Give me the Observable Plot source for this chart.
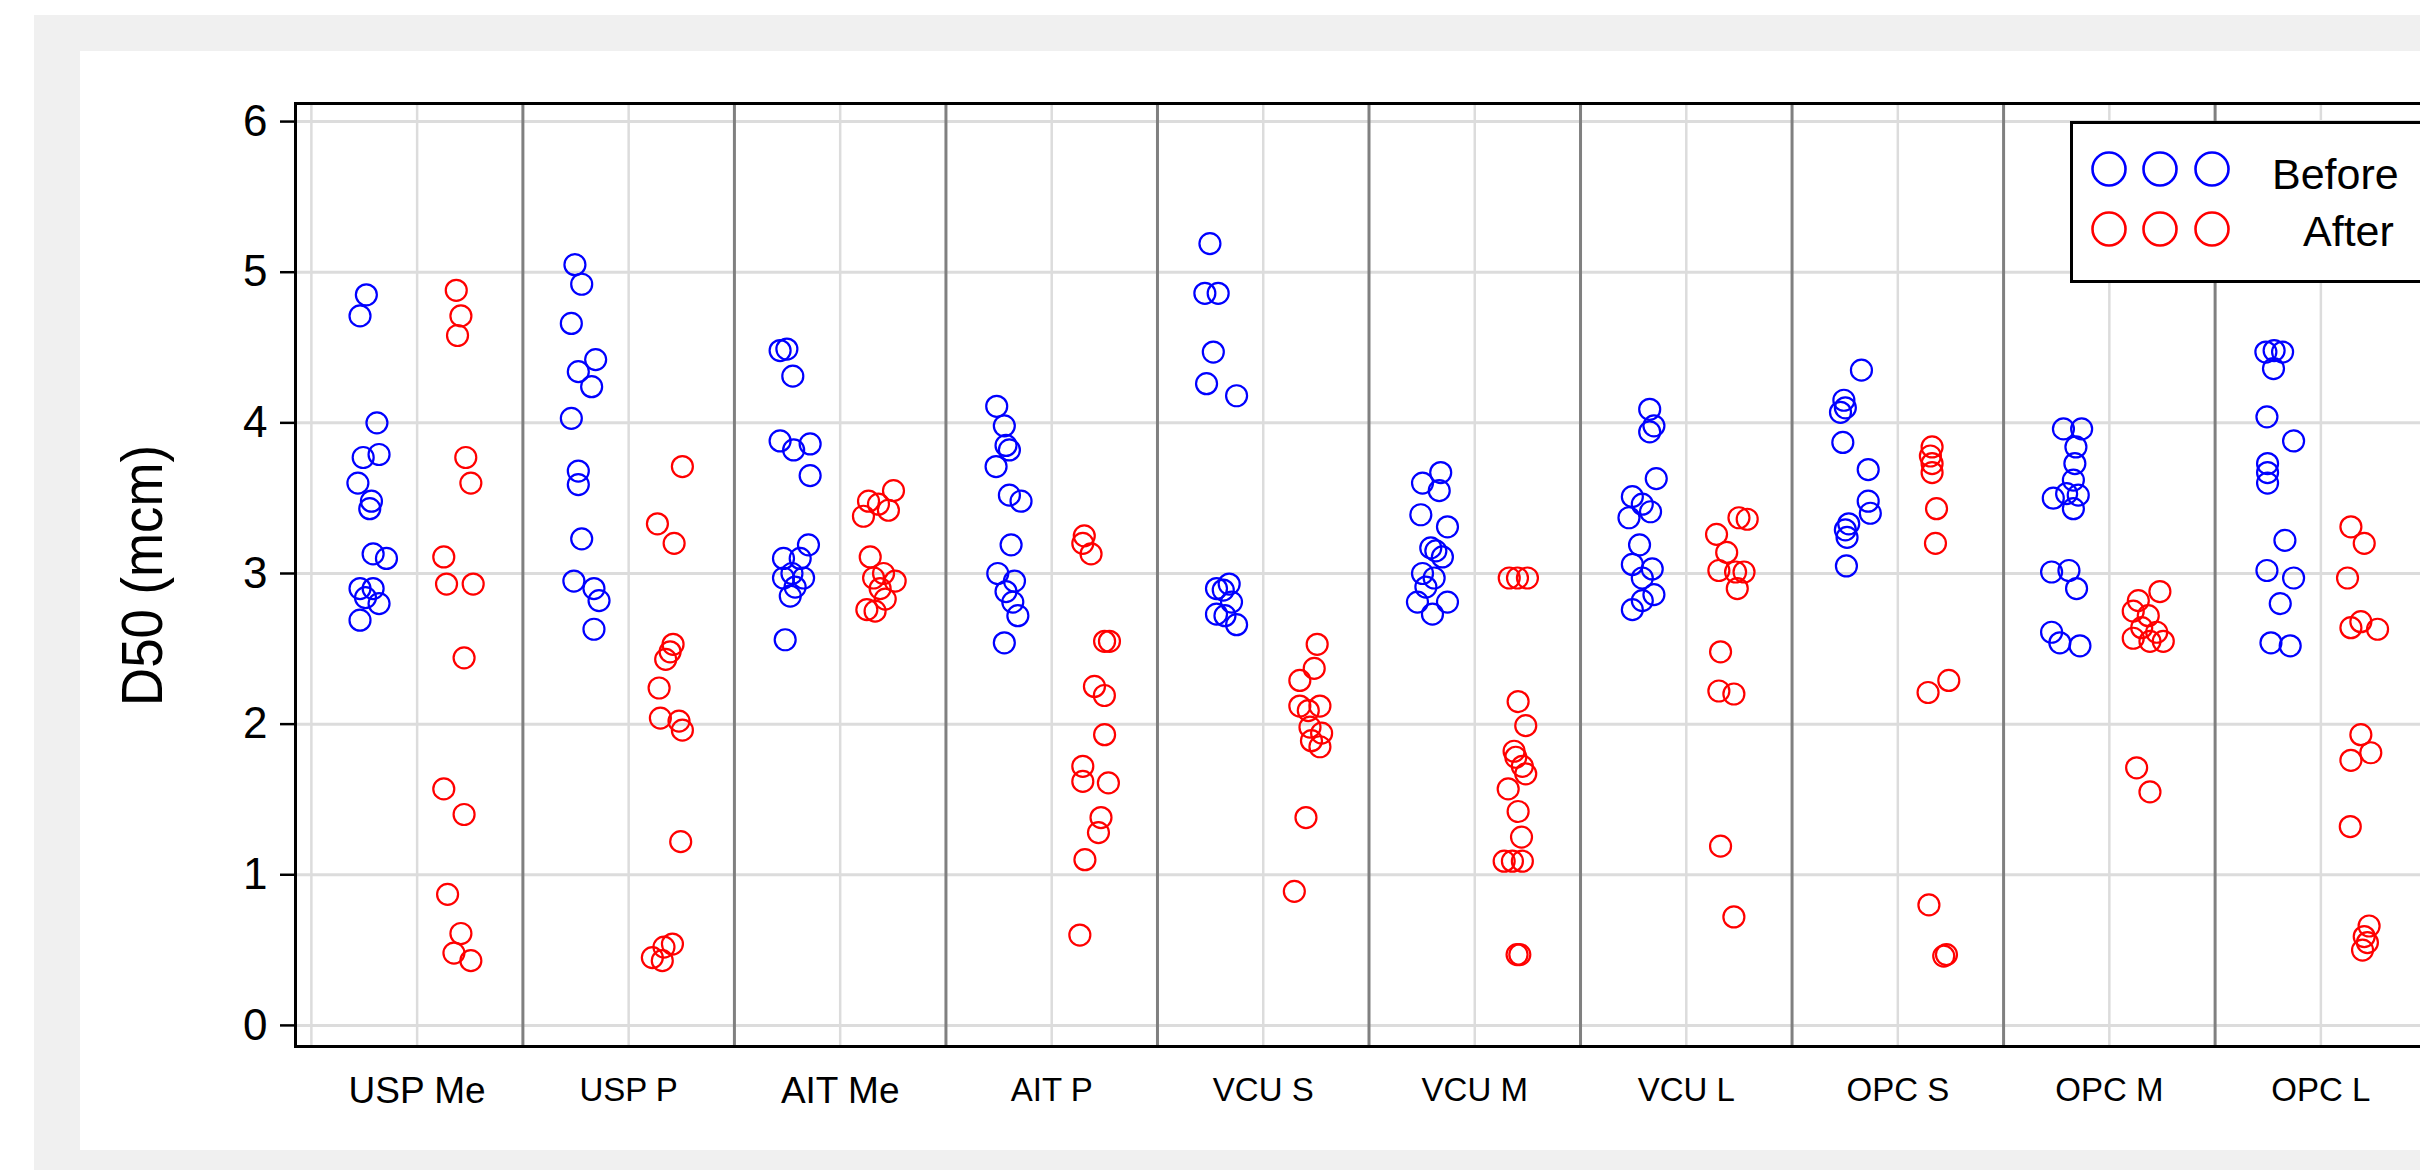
<!DOCTYPE html>
<html><head><meta charset="utf-8">
<script src="https://cdn.jsdelivr.net/npm/d3@7"></script>
<script src="https://cdn.jsdelivr.net/npm/@observablehq/plot@0.6"></script>
<style>
html,body{margin:0;padding:0;background:#fff;}
body{width:2420px;height:1170px;overflow:hidden;position:relative;font-family:"Liberation Sans",Arial,sans-serif;}
#gray{position:absolute;left:34px;top:15px;width:2500px;height:1200px;background:#f0f0f0;}
#panel{position:absolute;left:80px;top:51px;width:2340px;height:1099px;background:#fff;overflow:hidden;}
#panel svg{max-width:none !important;}
#legend{position:absolute;left:2070px;top:121px;width:420px;height:162px;box-sizing:border-box;border:3px solid #000;background:#fff;}
</style></head>
<body>
<div id="gray"></div>
<div id="panel"></div>
<div id="legend"></div>
<script>
// ---- data ----
const categories = ["USP Me","USP P","AIT Me","AIT P","VCU S","VCU M","VCU L","OPC S","OPC M","OPC L"];
const seriesNames = ["Before","After"];
const seriesColors = ["#0000ff","#ff0000"];
const yTicks = [0,1,2,3,4,5,6];
const yLabel = "D50 (mcm)";

const beforeValues = [
  [4.85,4.71,4.00,3.77,3.79,3.60,3.48,3.43,3.13,3.10,2.90,2.90,2.84,2.80,2.69],
  [5.05,4.92,4.66,4.42,4.34,4.24,4.03,3.68,3.59,3.23,2.95,2.90,2.82,2.63],
  [4.48,4.49,4.31,3.88,3.86,3.82,3.65,3.19,3.10,3.10,3.00,2.97,2.97,2.91,2.85,2.56],
  [4.11,3.98,3.85,3.82,3.71,3.52,3.48,3.19,3.00,2.95,2.88,2.81,2.72,2.54],
  [5.19,4.86,4.86,4.47,4.26,4.18,2.93,2.90,2.89,2.81,2.73,2.72,2.66],
  [3.67,3.60,3.55,3.39,3.31,3.17,3.15,3.11,3.00,2.97,2.91,2.81,2.81,2.73],
  [4.09,3.98,3.94,3.63,3.51,3.46,3.41,3.37,3.19,3.06,3.03,2.97,2.86,2.82,2.76],
  [4.35,4.15,4.10,4.07,3.87,3.69,3.48,3.40,3.33,3.29,3.24,3.05],
  [3.96,3.96,3.84,3.73,3.62,3.53,3.50,3.52,3.43,3.01,3.02,2.90,2.61,2.54,2.52],
  [4.47,4.48,4.47,4.36,4.04,3.88,3.73,3.67,3.60,3.22,3.02,2.97,2.80,2.54,2.52]
];
const beforeJitter = [
  [-0.24,-0.27,-0.19,-0.255,-0.18,-0.28,-0.216,-0.224,-0.208,-0.145,-0.27,-0.208,-0.244,-0.18,-0.27],
  [-0.254,-0.222,-0.271,-0.156,-0.238,-0.175,-0.271,-0.238,-0.238,-0.222,-0.259,-0.164,-0.14,-0.164],
  [-0.284,-0.252,-0.224,-0.284,-0.142,-0.22,-0.142,-0.15,-0.268,-0.189,-0.228,-0.173,-0.268,-0.213,-0.236,-0.26],
  [-0.26,-0.224,-0.216,-0.2,-0.263,-0.2,-0.145,-0.192,-0.255,-0.176,-0.216,-0.184,-0.16,-0.224],
  [-0.252,-0.276,-0.213,-0.236,-0.268,-0.126,-0.161,-0.221,-0.189,-0.15,-0.221,-0.181,-0.126],
  [-0.161,-0.247,-0.168,-0.255,-0.129,-0.208,-0.184,-0.153,-0.247,-0.192,-0.231,-0.129,-0.271,-0.2],
  [-0.173,-0.153,-0.173,-0.142,-0.255,-0.208,-0.169,-0.271,-0.221,-0.255,-0.161,-0.208,-0.153,-0.208,-0.255],
  [-0.172,-0.255,-0.248,-0.271,-0.26,-0.14,-0.14,-0.13,-0.232,-0.248,-0.24,-0.243],
  [-0.217,-0.131,-0.158,-0.163,-0.17,-0.202,-0.265,-0.147,-0.17,-0.273,-0.191,-0.155,-0.273,-0.234,-0.139],
  [-0.26,-0.221,-0.181,-0.224,-0.255,-0.129,-0.252,-0.252,-0.252,-0.17,-0.255,-0.129,-0.192,-0.236,-0.145]
];
const afterValues = [
  [4.88,4.71,4.58,3.77,3.60,3.11,2.93,2.93,2.44,1.57,1.40,0.87,0.61,0.48,0.43],
  [3.71,3.33,3.20,2.53,2.48,2.43,2.24,2.04,2.02,1.96,1.22,0.54,0.52,0.45,0.43],
  [3.55,3.48,3.46,3.42,3.38,3.11,3.00,2.97,2.95,2.90,2.83,2.76,2.75],
  [3.25,3.20,3.13,2.55,2.55,2.25,2.19,1.93,1.72,1.62,1.61,1.38,1.28,1.10,0.60],
  [2.53,2.37,2.29,2.12,2.12,2.09,1.98,1.94,1.85,1.89,1.38,0.89],
  [2.97,2.97,2.97,2.15,1.99,1.82,1.78,1.72,1.67,1.57,1.42,1.25,1.09,1.09,1.09,0.47,0.47],
  [3.37,3.36,3.26,3.14,3.02,3.01,3.01,2.90,2.48,2.22,2.20,1.19,0.72],
  [3.84,3.78,3.73,3.67,3.43,3.20,2.29,2.21,0.80,0.47,0.46],
  [2.88,2.82,2.75,2.72,2.64,2.61,2.57,2.55,2.55,1.71,1.55],
  [3.31,3.20,2.97,2.64,2.68,2.63,1.93,1.76,1.81,1.32,0.66,0.59,0.50,0.55]
];
const afterJitter = [
  [0.185,0.207,0.191,0.23,0.254,0.126,0.139,0.265,0.222,0.126,0.222,0.144,0.207,0.174,0.254],
  [0.254,0.136,0.215,0.21,0.196,0.175,0.144,0.15,0.238,0.254,0.246,0.207,0.167,0.112,0.159],
  [0.252,0.134,0.181,0.228,0.11,0.142,0.205,0.158,0.26,0.189,0.213,0.126,0.165],
  [0.154,0.147,0.186,0.25,0.273,0.202,0.249,0.25,0.147,0.147,0.268,0.233,0.221,0.157,0.133],
  [0.255,0.241,0.173,0.173,0.268,0.213,0.221,0.276,0.268,0.228,0.202,0.147],
  [0.202,0.163,0.249,0.205,0.241,0.186,0.194,0.225,0.241,0.158,0.205,0.221,0.139,0.178,0.225,0.213,0.2],
  [0.249,0.288,0.143,0.191,0.154,0.233,0.273,0.241,0.162,0.154,0.225,0.162,0.225],
  [0.162,0.154,0.162,0.162,0.183,0.178,0.241,0.143,0.147,0.23,0.217],
  [0.239,0.137,0.113,0.184,0.153,0.224,0.113,0.192,0.255,0.129,0.192],
  [0.142,0.205,0.126,0.142,0.189,0.268,0.189,0.142,0.236,0.139,0.228,0.205,0.197,0.22]
];

// ---- build table ----
const points = [];
categories.forEach((c, i) => {
  beforeValues[i].forEach((v, j) => points.push({cat: c, pos: i + beforeJitter[i][j], value: v, series: "Before"}));
  afterValues[i].forEach((v, j) => points.push({cat: c, pos: i + afterJitter[i][j], value: v, series: "After"}));
});
const catData = categories.map((c, i) => ({c, i}));
const lightX = [-0.5, ...categories.map((c, i) => i)];
const sepX = categories.map((c, i) => i + 0.5);

const chart = Plot.plot({
  width: 2400, height: 1099,
  marginLeft: 215, marginRight: 38, marginTop: 52, marginBottom: 104,
  style: {background: "transparent", fontFamily: "'Liberation Sans', Arial, sans-serif", fontSize: "44px", color: "#000", maxWidth: "none"},
  x: {domain: [-0.575, 9.575], axis: null},
  y: {domain: [-0.14, 6.12], ticks: yTicks, tickFormat: d3.format("d"), tickSize: 15, tickPadding: 13, label: null},
  color: {domain: seriesNames, range: seriesColors},
  marks: [
    Plot.ruleY(yTicks, {stroke: "#dcdcdc", strokeWidth: 3}),
    Plot.ruleX(lightX, {stroke: "#dcdcdc", strokeWidth: 2.5}),
    Plot.ruleX(sepX, {stroke: "#808080", strokeWidth: 3}),
    Plot.dot(points, {x: "pos", y: "value", stroke: "series", r: 10.5, strokeWidth: 2.2, fill: "none"}),
    Plot.frame({stroke: "#000", strokeWidth: 3}),
    Plot.text(catData.filter(d => d.c.endsWith("Me")), {x: "i", text: "c", frameAnchor: "bottom", lineAnchor: "bottom", dy: 56, fontSize: 37, fill: "#000"}),
    Plot.text(catData.filter(d => !d.c.endsWith("Me")), {x: "i", text: "c", frameAnchor: "bottom", lineAnchor: "bottom", dy: 54, fontSize: 33, fill: "#000"})
  ]
});
document.getElementById("panel").appendChild(chart);

const svg = d3.select(chart);
svg.selectAll('g[aria-label^="y-axis"] path, g[aria-label^="y-axis"] line').attr("stroke-width", 2.5);
svg.append("text")
  .attr("transform", "translate(82,524.5) rotate(-90) scale(0.91,1)")
  .attr("text-anchor", "middle")
  .attr("font-size", 58)
  .attr("fill", "#000")
  .text(yLabel);

// ---- legend ----
const leg = d3.select("#legend").append("svg").attr("width", 414).attr("height", 156);
const rowsY = [45, 105];
const textX = [199, 230];
const textBase = [65, 122];
seriesNames.forEach((s, k) => {
  [36, 87, 139].forEach(cx => {
    leg.append("circle").attr("cx", cx).attr("cy", rowsY[k]).attr("r", 16.5).attr("fill", "none")
      .attr("stroke", seriesColors[k]).attr("stroke-width", 2.6);
  });
  leg.append("text").attr("x", textX[k]).attr("y", textBase[k])
    .attr("font-size", 43).attr("font-family", "'Liberation Sans', Arial, sans-serif").attr("fill", "#000").text(s);
});
</script>
</body></html>
